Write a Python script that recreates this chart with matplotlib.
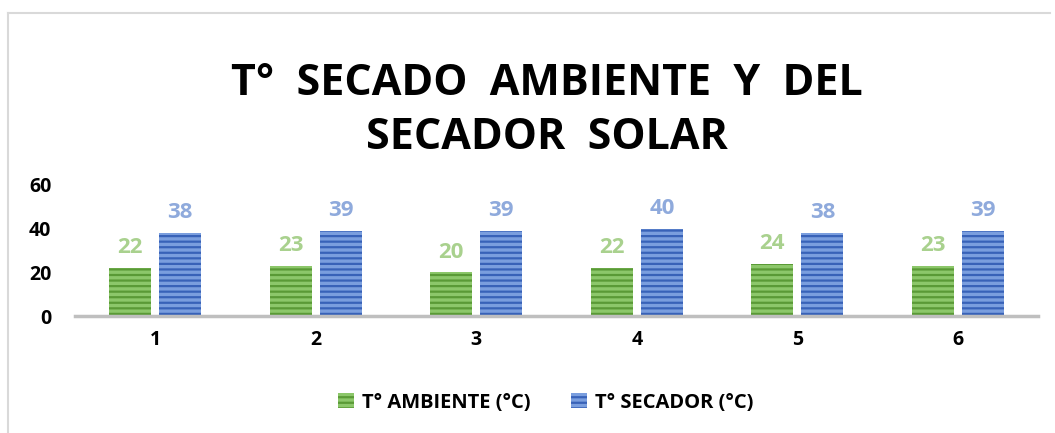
import matplotlib.pyplot as plt
import numpy as np
from matplotlib.lines import Line2D

plt.rcParams['font.family'] = ['Open Sans', 'DejaVu Sans']
plt.rcParams['hatch.linewidth'] = 1.6

categorias = ['1', '2', '3', '4', '5', '6']
t_ambiente = [22, 23, 20, 22, 24, 23]
t_secador = [38, 39, 39, 40, 38, 39]

fig = plt.figure(figsize=(10.55, 4.33), dpi=100)
ax = fig.add_axes([0.071, 0.270, 0.913, 0.303])

x = np.arange(len(categorias))
w = 0.26
b1 = ax.bar(x - 0.156, t_ambiente, w, color='#8cc76a', edgecolor='#5a9a36',
            linewidth=0, hatch='---', label='T° AMBIENTE (°C)')
b2 = ax.bar(x + 0.156, t_secador, w, color='#7a9ede', edgecolor='#3862b8',
            linewidth=0, hatch='---', label='T° SECADOR (°C)')

ax.bar_label(b1, padding=7, color='#a9d18e', fontsize=16, fontweight='bold')
ax.bar_label(b2, padding=7, color='#8faadc', fontsize=16, fontweight='bold')

ax.set_ylim(0, 60)
ax.set_yticks([0, 20, 40, 60])
ax.set_xlim(-0.5, 5.5)
ax.set_xticks(x)
ax.set_xticklabels(categorias)
ax.tick_params(length=0, labelsize=14)
ax.tick_params(axis='x', pad=10)
ax.tick_params(axis='y', pad=17)
for lab in ax.get_xticklabels() + ax.get_yticklabels():
    lab.set_fontweight('bold')

for s in ['top', 'right', 'left']:
    ax.spines[s].set_visible(False)
ax.spines['bottom'].set_color('#bfbfbf')
ax.spines['bottom'].set_linewidth(2.5)

fig.text(0.518, 0.745, 'T°  SECADO  AMBIENTE  Y  DEL\nSECADOR  SOLAR', ha='center',
         va='center', fontsize=31, fontweight='bold', linespacing=1.32)

fig.legend(handles=[b1, b2], loc='center', bbox_to_anchor=(0.517, 0.07),
           ncol=2, frameon=False, prop={'weight': 'bold', 'size': 14.5},
           handlelength=0.8, handleheight=0.8, handletextpad=0.4, columnspacing=2.0)

# marco del grafico
fig.add_artist(Line2D([0.008, 0.008], [0, 0.97], color='#d9d9d9', lw=1.5))
fig.add_artist(Line2D([0.008, 0.995], [0.97, 0.97], color='#d9d9d9', lw=1.5))

fig.savefig('out.png', dpi=100)
